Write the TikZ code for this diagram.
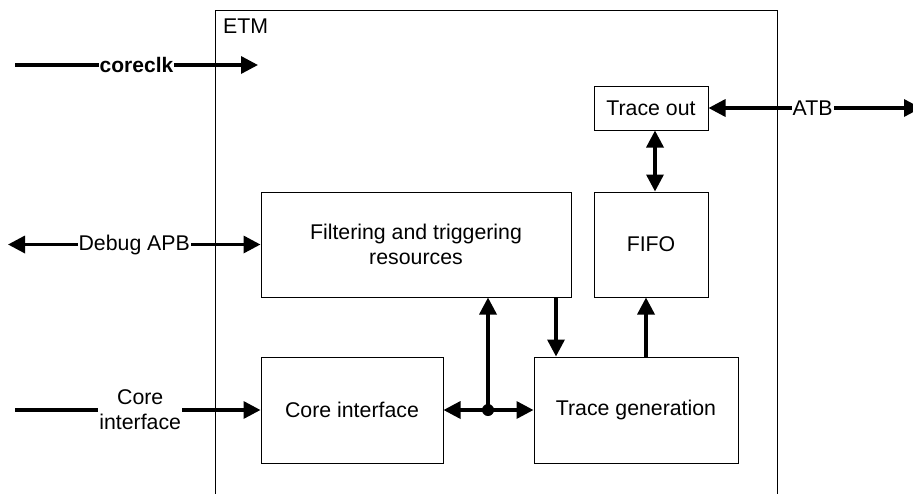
\documentclass[tikz,border=0pt]{standalone}
\usepackage{fontspec}
\setmainfont{Liberation Sans}
\usetikzlibrary{arrows.meta}
\begin{document}
\begin{tikzpicture}[x=1pt,y=-1pt,
  box/.style={draw, line width=1pt, fill=white, align=center, inner sep=2pt},
  arr/.style={line width=3.4pt, arrows={-Triangle[length=17pt,width=17pt]}},
  biarr/.style={line width=3.4pt, arrows={Triangle[length=17pt,width=17pt]-Triangle[length=17pt,width=17pt]}},
  lbl/.style={fill=white, inner sep=1pt, align=center},
  font=\fontsize{21.3}{25}\selectfont]
\useasboundingbox (0,0) rectangle (913,493);
% ETM outline (open at bottom)
\draw[line width=1pt] (215,494) -- (215,10) -- (777,10) -- (777,494);
\node[anchor=base west, inner sep=0pt] (etm) at (223,33) {ETM};
% blocks
\node[box, minimum width=114pt, minimum height=44pt] (trout) at (651,108) {Trace out};
\node[box, minimum width=114pt, minimum height=105pt] (fifo) at (651,244.5) {FIFO};
\node[box, minimum width=310pt, minimum height=105pt] (filt) at (416,244.5) {Filtering and triggering\\resources};
\node[box, minimum width=182pt, minimum height=106pt] (corei) at (352,410) {Core interface};
\node[box, minimum width=204pt, minimum height=106pt] (tgen) at (636,410) {Trace generation};
% free ends
\coordinate (cc0) at (15,65);
\coordinate (cc1) at (258,65);
\coordinate (dbg) at (8,244.5);
\coordinate (ci0) at (15,410);
\coordinate (atb) at (921,108);
\coordinate (j) at (488,410);
\coordinate (dx) at (556,0);
\coordinate (ux) at (646,0);
\coordinate (tx) at (655,0);
% connectors
\draw[arr] (cc0) -- node[lbl, font=\fontsize{21}{25}\selectfont\bfseries] {coreclk} (cc1);
\draw[biarr] (dbg) -- node[lbl] {Debug APB} (filt.west);
\draw[arr] (ci0) -- node[lbl, pos=0.51] {Core\\interface} (corei.west);
\draw[biarr] (trout.east) -- node[lbl, pos=0.49] {ATB} (atb);
\draw[biarr] (trout.south -| tx) -- (fifo.north -| tx);
\draw[biarr] (corei.east) -- (tgen.west);
\draw[arr] (j) -- (j |- filt.south);
\fill (j) circle (6);
\draw[arr] (filt.south -| dx) -- (tgen.north -| dx);
\draw[arr] (tgen.north -| ux) -- (fifo.south -| ux);
\end{tikzpicture}
\end{document}
